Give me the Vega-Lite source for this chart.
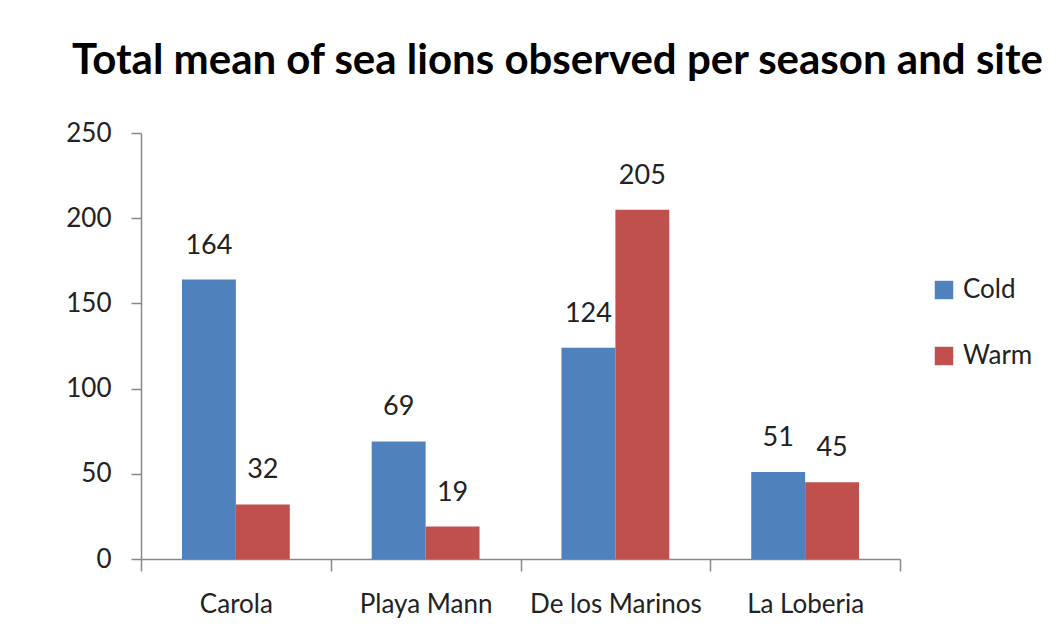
{
  "$schema": "https://vega.github.io/schema/vega-lite/v6.json",
  "autosize": {"type": "none"},
  "padding": {"left": 141, "top": 133, "right": 158, "bottom": 67},
  "width": 759,
  "height": 426,
  "background": "white",
  "title": {
    "text": "Total mean of sea lions observed per season and site",
    "font": "Lato",
    "fontSize": 42,
    "fontWeight": "bold",
    "color": "#000000",
    "anchor": "middle",
    "dx": 37,
    "offset": 37
  },
  "data": {
    "values": [
      {"site": "Carola", "season": "Cold", "value": 164},
      {"site": "Carola", "season": "Warm", "value": 32},
      {"site": "Playa Mann", "season": "Cold", "value": 69},
      {"site": "Playa Mann", "season": "Warm", "value": 19},
      {"site": "De los Marinos", "season": "Cold", "value": 124},
      {"site": "De los Marinos", "season": "Warm", "value": 205},
      {"site": "La Loberia", "season": "Cold", "value": 51},
      {"site": "La Loberia", "season": "Warm", "value": 45}
    ]
  },
  "encoding": {
    "x": {
      "field": "site",
      "type": "nominal",
      "sort": null,
      "scale": {"paddingInner": 0, "paddingOuter": 0},
      "axis": {
        "title": null,
        "labelAngle": 0,
        "labelFont": "Lato",
        "labelFontSize": 26,
        "labelColor": "#222222",
        "labelPadding": 20,
        "tickBand": "extent",
        "tickSize": 12,
        "tickColor": "#888888",
        "domainColor": "#888888",
        "domainWidth": 1.5,
        "tickWidth": 1.5
      }
    },
    "xOffset": {
      "field": "season",
      "type": "nominal",
      "sort": ["Cold", "Warm"],
      "scale": {"paddingInner": 0, "paddingOuter": 0.76}
    },
    "y": {
      "field": "value",
      "type": "quantitative",
      "scale": {"domain": [0, 250]},
      "axis": {
        "title": null,
        "values": [0, 50, 100, 150, 200, 250],
        "grid": false,
        "labelFont": "Lato",
        "labelFontSize": 26,
        "labelColor": "#222222",
        "labelPadding": 20,
        "tickSize": 10,
        "tickColor": "#888888",
        "domainColor": "#888888",
        "domainWidth": 1.5,
        "tickWidth": 1.5
      }
    }
  },
  "layer": [
    {
      "mark": {"type": "bar"},
      "encoding": {
        "color": {
          "field": "season",
          "type": "nominal",
          "scale": {"domain": ["Cold", "Warm"], "range": ["#4F81BD", "#C0504D"]},
          "legend": {
            "title": null,
            "orient": "none",
            "legendX": 790,
            "legendY": 144,
            "symbolType": "square",
            "symbolSize": 340,
            "symbolStrokeWidth": 0,
            "labelFont": "Lato",
            "labelFontSize": 26,
            "labelColor": "#222222",
            "rowPadding": 40,
            "labelOffset": 6
          }
        }
      }
    },
    {
      "mark": {"type": "text", "baseline": "bottom", "dy": -20, "font": "Lato", "fontSize": 27, "color": "#222222"},
      "encoding": {"text": {"field": "value", "type": "quantitative"}}
    }
  ],
  "config": {"view": {"stroke": null}}
}
